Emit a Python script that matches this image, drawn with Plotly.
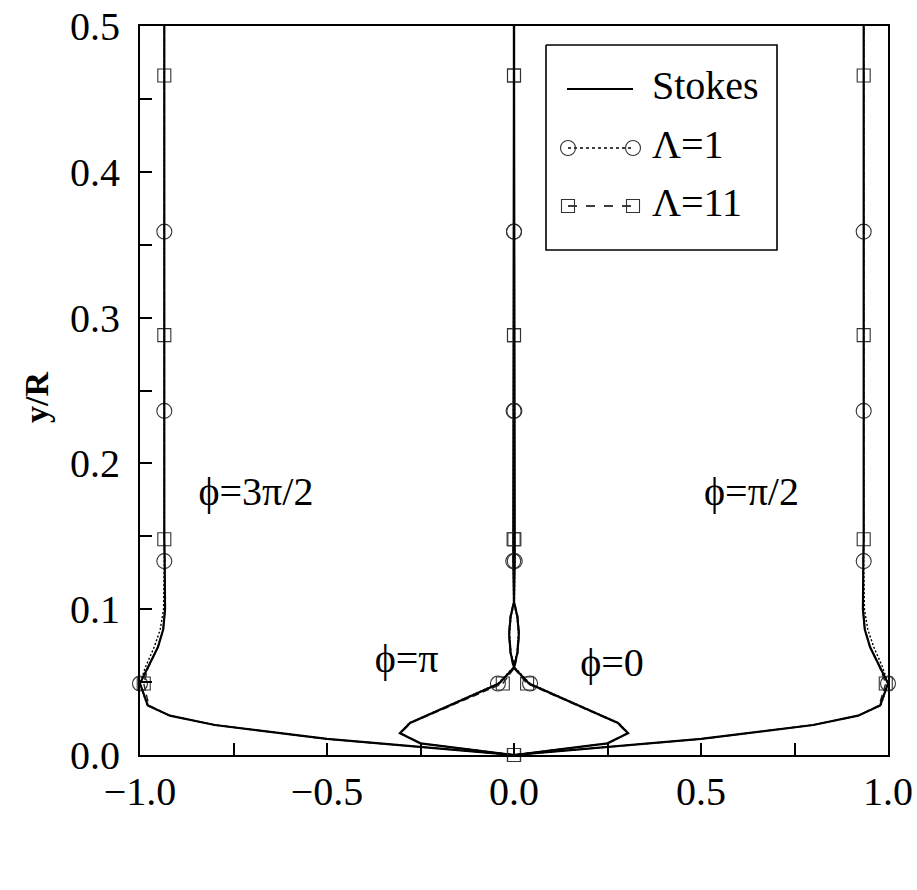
import plotly.graph_objects as go

# ---------------------------------------------------------------
# Velocity-defect profiles (<u> - U)/U_m versus wall distance y/R
# at four phases of the oscillation cycle.
# ---------------------------------------------------------------

# wall-normal grid of the outer profiles (phi = pi/2 and 3pi/2)
y_outer = [0.0, 0.011, 0.0206, 0.027, 0.034, 0.049, 0.060, 0.074, 0.086,
           0.100, 0.133, 0.148, 0.236, 0.288, 0.359, 0.466, 0.500]
# wall-normal grid of the inner profiles (phi = 0 and pi)
y_inner = [0.0, 0.008, 0.015, 0.022, 0.049, 0.060, 0.070, 0.083, 0.095,
           0.105, 0.133, 0.148, 0.236, 0.288, 0.359, 0.466, 0.500]

# phi = pi/2
stokes_pi2 = [0.0, 0.50, 0.80, 0.92, 0.979, 1.000, 0.979, 0.952, 0.938,
              0.933, 0.934, 0.935, 0.935, 0.935, 0.935, 0.935, 0.935]
lam1_pi2 = [0.0, 0.50, 0.80, 0.92, 0.981, 1.000, 0.986, 0.962, 0.946,
            0.937, 0.935, 0.935, 0.935, 0.935, 0.935, 0.935, 0.935]
lam11_pi2 = [0.0, 0.50, 0.80, 0.92, 0.976, 0.994, 0.978, 0.952, 0.938,
             0.933, 0.934, 0.935, 0.935, 0.935, 0.935, 0.935, 0.935]

# phi = 3pi/2
stokes_3pi2 = [0.0, -0.50, -0.80, -0.92, -0.979, -1.000, -0.979, -0.952, -0.938,
               -0.933, -0.934, -0.935, -0.935, -0.935, -0.935, -0.935, -0.935]
lam1_3pi2 = [0.0, -0.50, -0.80, -0.92, -0.981, -1.000, -0.986, -0.962, -0.946,
             -0.937, -0.935, -0.935, -0.935, -0.935, -0.935, -0.935, -0.935]
lam11_3pi2 = [0.0, -0.50, -0.80, -0.92, -0.976, -0.990, -0.978, -0.952, -0.938,
              -0.933, -0.934, -0.935, -0.935, -0.935, -0.935, -0.935, -0.935]

# phi = 0
stokes_0 = [0.0, 0.25, 0.305, 0.278, 0.040, 0.000, -0.009, -0.013, -0.009,
            0.000, 0.002, 0.002, 0.001, 0.000, 0.000, 0.000, 0.000]
lam1_0 = [0.0, 0.25, 0.305, 0.280, 0.043, 0.002, -0.008, -0.012, -0.008,
          0.001, 0.002, 0.002, 0.001, 0.000, 0.000, 0.000, 0.000]
lam11_0 = [0.0, 0.25, 0.303, 0.276, 0.035, -0.002, -0.010, -0.014, -0.010,
           -0.001, 0.001, 0.001, 0.000, 0.000, 0.000, 0.000, 0.000]

# phi = pi
stokes_pi = [0.0, -0.25, -0.305, -0.278, -0.040, 0.000, 0.009, 0.013, 0.009,
             0.000, -0.002, -0.002, -0.001, 0.000, 0.000, 0.000, 0.000]
lam1_pi = [0.0, -0.25, -0.305, -0.280, -0.043, -0.002, 0.008, 0.012, 0.008,
           -0.001, -0.002, -0.002, -0.001, 0.000, 0.000, 0.000, 0.000]
lam11_pi = [0.0, -0.25, -0.303, -0.276, -0.030, 0.002, 0.010, 0.014, 0.010,
            0.001, -0.001, -0.001, 0.000, 0.000, 0.000, 0.000, 0.000]

# wall distances carrying a symbol for each case
lam1_marks = [0.049, 0.133, 0.236, 0.359]
lam11_marks = [0.0, 0.049, 0.148, 0.288, 0.466]

# phase labels
phase_text = ["ϕ=3π/2", "ϕ=π/2", "ϕ=π", "ϕ=0"]
phase_x = [-0.69, 0.635, -0.287, 0.262]
phase_y = [0.178, 0.178, 0.064, 0.061]

# axis ticks (labelled majors with unlabelled minors in between)
x_ticks = [-1.0, -0.75, -0.5, -0.25, 0.0, 0.25, 0.5, 0.75, 1.0]
x_labels = ["−1.0", "", "−0.5", "", "0.0", "", "0.5", "", "1.0"]
y_ticks = [0.0, 0.05, 0.1, 0.15, 0.2, 0.25, 0.3, 0.35, 0.4, 0.45, 0.5]
y_labels = ["0.0", "", "0.1", "", "0.2", "", "0.3", "", "0.4", "", "0.5"]

legend_labels = ["Stokes", "Λ=1", "Λ=11"]

FONT = "Liberation Serif"
INK = "black"

# ---- plot-area geometry in pixels ----
W, H = 917, 890
L, R, T, B = 140, 29, 26, 135

fig = go.Figure()

LINE_STYLES = {
    "stokes": dict(color=INK, width=2.2, dash="solid"),
    "lam1": dict(color=INK, width=1.4, dash="2px,2px"),
    "lam11": dict(color="#222", width=1.4, dash="7px,4px"),
}


def add_profile(y, x, kind, marks=None, symbol=None, msize=None):
    fig.add_trace(go.Scatter(x=x, y=y, mode="lines", line=LINE_STYLES[kind],
                             showlegend=False, hoverinfo="skip"))
    if marks:
        idx = [i for i, v in enumerate(y) if v in marks]
        fig.add_trace(go.Scatter(
            x=[x[i] for i in idx], y=[y[i] for i in idx], mode="markers",
            marker=dict(symbol=symbol, size=msize, color="#333",
                        line=dict(width=1.1, color="#333")),
            cliponaxis=False, showlegend=False, hoverinfo="skip"))


for yy, xs, xl1, xl11 in [
    (y_outer, stokes_3pi2, lam1_3pi2, lam11_3pi2),
    (y_outer, stokes_pi2, lam1_pi2, lam11_pi2),
    (y_inner, stokes_pi, lam1_pi, lam11_pi),
    (y_inner, stokes_0, lam1_0, lam11_0),
]:
    add_profile(yy, xl1, "lam1", lam1_marks, "circle-open", 15)
    add_profile(yy, xl11, "lam11", lam11_marks, "square-open", 13)
    add_profile(yy, xs, "stokes")

# phase labels as text marks in data space
fig.add_trace(go.Scatter(x=phase_x, y=phase_y, mode="text", text=phase_text,
                         textposition="middle center",
                         textfont=dict(family=FONT, size=40, color=INK),
                         showlegend=False, hoverinfo="skip", cliponaxis=False))

# ---- key box, drawn on an overlay axis pair measured in pixels ----
PIX = dict(xaxis="x2", yaxis="y2", showlegend=False, hoverinfo="skip",
           cliponaxis=False)
fig.add_trace(go.Scatter(x=[546, 777, 777, 546, 546], y=[45, 45, 250, 250, 45],
                         mode="lines", fill="toself", fillcolor="white",
                         line=dict(color=INK, width=1.6), **PIX))
fig.add_trace(go.Scatter(x=[567, 633], y=[89, 89], mode="lines",
                         line=dict(color=INK, width=2), **PIX))
fig.add_trace(go.Scatter(x=[568, 633], y=[148, 148], mode="lines+markers",
                         line=dict(color=INK, width=1.3, dash="dot"),
                         marker=dict(symbol="circle-open", size=15, color="#333",
                                     line=dict(width=1.1, color="#333")), **PIX))
fig.add_trace(go.Scatter(x=[568, 633], y=[206, 206], mode="lines+markers",
                         line=dict(color=INK, width=1.3, dash="dash"),
                         marker=dict(symbol="square-open", size=13, color="#333",
                                     line=dict(width=1.1, color="#333")), **PIX))
fig.add_trace(go.Scatter(x=[652, 652, 652], y=[89, 148, 206], mode="text",
                         text=legend_labels, textposition="middle right",
                         textfont=dict(family=FONT, size=40, color=INK), **PIX))

# x-axis title
fig.add_trace(go.Scatter(x=[508], y=[858], mode="text",
                         text=["(&lt;u&gt; −U)/U<sub>m</sub>"],
                         textposition="middle center",
                         textfont=dict(family=FONT, size=38, color=INK), **PIX))

# y-axis title (rotated)
fig.add_annotation(xref="paper", yref="paper",
                   x=(36 - L) / (W - L - R), y=(H - B - 398) / (H - T - B),
                   text="<b>y/R</b>", showarrow=False, textangle=-90,
                   xanchor="center", yanchor="middle",
                   font=dict(family=FONT, size=34, color=INK))

axis_common = dict(
    showgrid=False, zeroline=False, showline=True, linecolor=INK, linewidth=2,
    mirror=True, ticks="inside", ticklen=12, tickwidth=1.5, tickcolor=INK,
    tickfont=dict(family=FONT, size=40, color=INK), automargin=False,
)

fig.update_layout(
    width=W, height=H, autosize=False,
    margin=dict(l=L, r=R, t=T, b=B),
    paper_bgcolor="white", plot_bgcolor="white",
    xaxis=dict(range=[-1.0, 1.0], tickmode="array", tickvals=x_ticks,
               ticktext=x_labels, **axis_common),
    yaxis=dict(range=[0.0, 0.5], tickmode="array", tickvals=y_ticks,
               ticktext=[t + "\u00a0" if t else "" for t in y_labels],
               **axis_common),
    xaxis2=dict(overlaying="x", range=[L, W - R], visible=False, fixedrange=True),
    yaxis2=dict(overlaying="y", range=[H - B, T], visible=False, fixedrange=True),
)

fig.write_html("out.html")
